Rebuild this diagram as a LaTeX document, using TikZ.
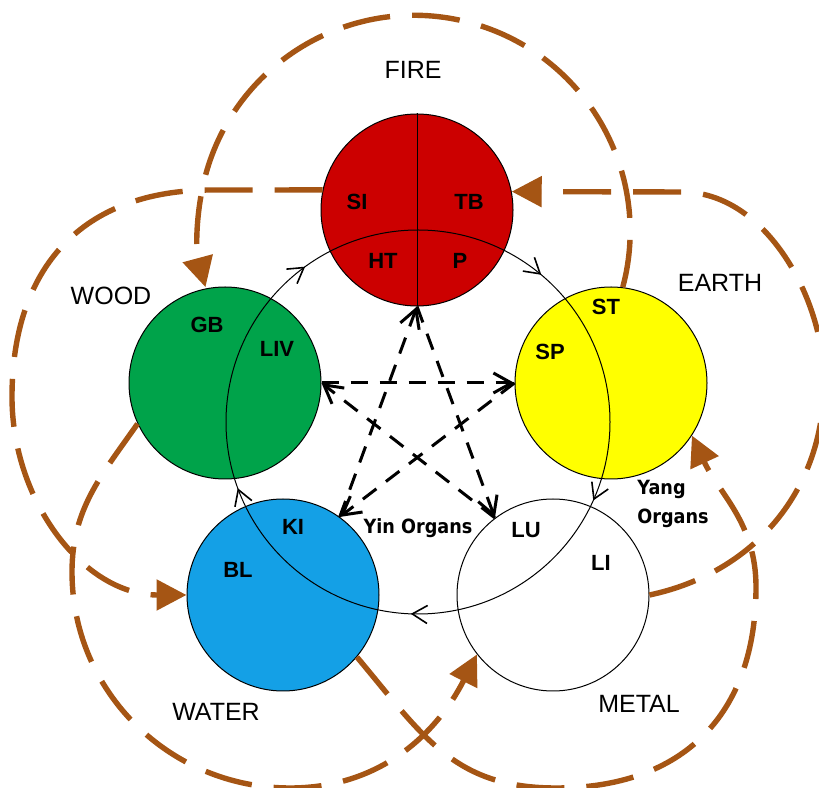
\documentclass[tikz,border=0pt]{standalone}
\usepackage{fontspec}
\setmainfont{Liberation Sans}
\newfontfamily\organfont[FakeStretch=0.9]{DejaVu Sans}
\usetikzlibrary{arrows.meta,decorations.markings}

\definecolor{firered}{RGB}{204,0,0}
\definecolor{woodgreen}{RGB}{0,163,74}
\definecolor{earthyellow}{RGB}{255,255,0}
\definecolor{waterblue}{RGB}{20,160,230}
\definecolor{arcbrown}{RGB}{165,85,20}

\tikzset{
  cyctip/.tip={Straight Barb[length=7.5pt,width=9pt,line width=0.8pt]},
}

\begin{document}
\begin{tikzpicture}[x=0.5pt,y=0.5pt,
  element/.style={circle, draw=black, line width=0.5pt, minimum size=96pt, inner sep=0pt},
  elname/.style={font=\fontsize{12.5}{15}\selectfont},
  organ/.style={font=\fontsize{11}{13}\selectfont\bfseries},
  smalllabel/.style={font=\organfont\bfseries\fontsize{9.8}{14.5}\selectfont},
  brownarc/.style={draw=arcbrown, line width=2.7pt, dash pattern=on 24pt off 11pt,
    -{Triangle[length=15pt,width=15pt]}},
  ctrl/.style={draw=black, line width=1.5pt, dash pattern=on 8.5pt off 6pt,
    -{Straight Barb[length=9pt,width=10pt]}},
  cycleline/.style={draw=black, line width=0.5pt, postaction={decorate},
    decoration={markings,
      mark=at position 0.111 with {\arrow{cyctip}},
      mark=at position 0.317 with {\arrow{cyctip}},
      mark=at position 0.506 with {\arrow{cyctip}},
      mark=at position 0.694 with {\arrow{cyctip}},
      mark=at position 0.900 with {\arrow{cyctip}}}}
]
\useasboundingbox (0,0) rectangle (819,787);

% element circles
\node[element, fill=firered] (fire) at (417,577) {};
\node[element, fill=woodgreen] (wood) at (225,404) {};
\node[element, fill=earthyellow] (earth) at (611,404) {};
\node[element, fill=waterblue] (water) at (283,192) {};
\node[element, fill=white] (metal) at (553,192) {};

\draw[line width=0.5pt] (fire.north) -- (fire.south);

% yin/yang generating cycle
\coordinate (cyc) at (418,365);
\draw[cycleline] ([shift={(90:192)}]cyc) arc[start angle=90, end angle=-270, radius=192];

% control cycle (dashed star)
\draw[ctrl] (wood.east) -- (earth.west);
\draw[ctrl] (earth.west) -- (water.54);
\draw[ctrl] (water.54) -- (fire.south);
\draw[ctrl] (fire.south) -- (metal.127);
\draw[ctrl] (metal.127) -- (wood.east);

% brown dashed arcs
\draw[brownarc] (earth.83) arc[start angle=-15, end angle=195, radius=216];
\draw[brownarc] (metal.east) to[out=12, in=-90] (824,405)
  to[out=90, in=0, looseness=0.9] (682,595) -- (fire.11);
\draw[brownarc] (fire.168) -- (212,597) to[out=180, in=90, looseness=1.15] (12,390)
  to[out=-90, in=180] (water.west);
\draw[brownarc] (water.-40) to[out=-50, in=180, looseness=1.1] (556,-1)
  to[out=0, in=-90, looseness=1.15] (756,200) to[out=90, in=-65] (earth.-33);
\draw[brownarc] (wood.-155) to[out=-125, in=90] (72,215)
  to[out=-90, in=180] (290,-1) to[out=0, in=-117] (metal.-142);

% element names
\node[elname] (firelbl) at (413,717) {FIRE};
\node[elname] (woodlbl) at (111,491) {WOOD};
\node[elname] (earthlbl) at (720,504) {EARTH};
\node[elname] (waterlbl) at (216,75) {WATER};
\node[elname] (metallbl) at (639,83) {METAL};

% organ labels
\node[organ] (si) at (357,585) {SI};
\node[organ] (tb) at (469,585) {TB};
\node[organ] (ht) at (383,526) {HT};
\node[organ] (p) at (460,526) {P};
\node[organ] (gb) at (207,462) {GB};
\node[organ] (liv) at (277,438) {LIV};
\node[organ] (st) at (606,480) {ST};
\node[organ] (sp) at (550,435) {SP};
\node[organ] (ki) at (293,260) {KI};
\node[organ] (bl) at (238,217) {BL};
\node[organ] (lu) at (526,257) {LU};
\node[organ] (li) at (601,224) {LI};

\node[smalllabel, anchor=base] (yin) at (418,253) {Yin Organs};
\node[smalllabel, anchor=north west, align=left, inner sep=0pt] (yang) at (637,307) {Yang\\Organs};
\end{tikzpicture}
\end{document}
